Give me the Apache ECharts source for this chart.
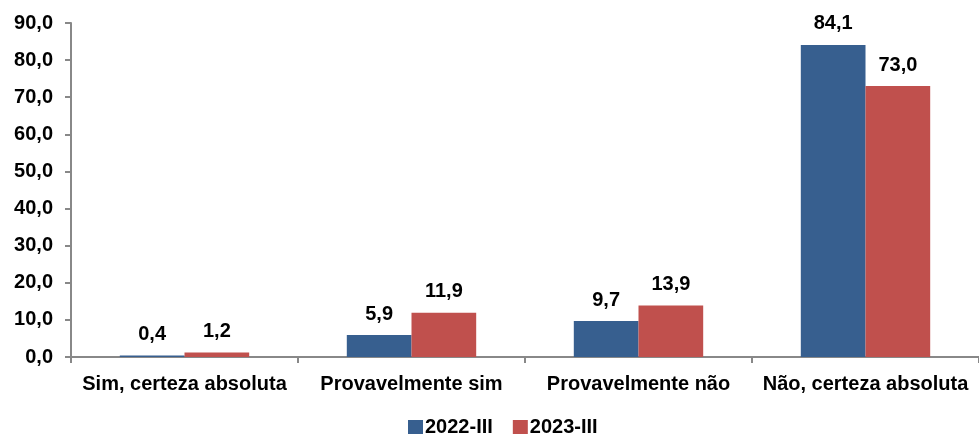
<!DOCTYPE html>
<html>
<head>
<meta charset="utf-8">
<script src="https://cdn.jsdelivr.net/npm/echarts@6/dist/echarts.min.js"></script>
<style>
  html, body { margin: 0; padding: 0; background: #fff; }
  #main { width: 979px; height: 438px; }
</style>
</head>
<body>
<div id="main"></div>
<script>
// dados
var categories = ['Sim, certeza absoluta', 'Provavelmente sim', 'Provavelmente não', 'Não, certeza absoluta'];
var serie2022 = [0.4, 5.9, 9.7, 84.1];
var serie2023 = [1.2, 11.9, 13.9, 73.0];
var seriesNames = ['2022-III', '2023-III'];

var fmt = function (v) {
  return Number(v).toFixed(1).replace('.', ',');
};

var chart = echarts.init(document.getElementById('main'));

var labelStyle = {
  show: true,
  position: 'top',
  distance: 11,
  color: '#000',
  fontWeight: 'bold',
  fontSize: 20,
  formatter: function (p) { return fmt(p.value); }
};

var option = {
  animation: false,
  textStyle: { fontFamily: 'Liberation Sans, Arial, sans-serif' },
  color: ['#375F8F', '#C0504D'],
  legend: {
    bottom: 1,
    left: 408,
    padding: 0,
    itemWidth: 15,
    itemHeight: 14,
    itemGap: 20,
    icon: 'rect',
    textStyle: { fontWeight: 'bold', fontSize: 20, color: '#000', padding: [0, 0, 0, -3] },
    data: seriesNames
  },
  grid: {
    left: 71,
    right: 0,
    top: 23,
    bottom: 81
  },
  xAxis: {
    type: 'category',
    data: categories,
    axisLine: { lineStyle: { color: '#888', width: 2 } },
    axisTick: { show: true, length: 6, lineStyle: { color: '#888', width: 2 } },
    axisLabel: {
      color: '#000',
      fontWeight: 'bold',
      fontSize: 20,
      margin: 17,
      interval: 0
    }
  },
  yAxis: {
    type: 'value',
    min: 0,
    max: 90,
    interval: 10,
    splitLine: { show: false },
    axisLine: { show: true, lineStyle: { color: '#888', width: 2 } },
    axisTick: { show: true, length: 6, lineStyle: { color: '#888', width: 2 } },
    axisLabel: {
      color: '#000',
      fontWeight: 'bold',
      fontSize: 20,
      margin: 18,
      formatter: fmt
    }
  },
  series: [
    {
      name: seriesNames[0],
      type: 'bar',
      data: serie2022,
      barGap: '0%',
      barCategoryGap: '43%',
      label: labelStyle
    },
    {
      name: seriesNames[1],
      type: 'bar',
      data: serie2023,
      label: labelStyle
    }
  ]
};

chart.setOption(option);
</script>
</body>
</html>
